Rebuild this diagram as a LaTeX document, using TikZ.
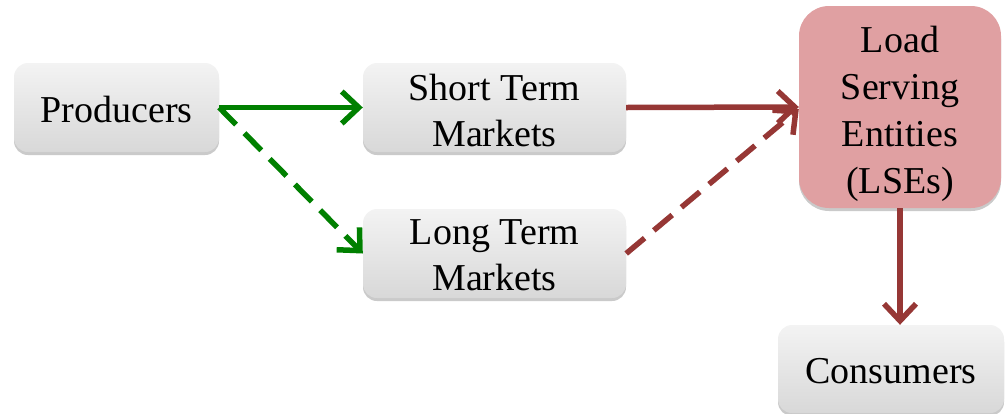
\documentclass[tikz,border=0pt]{standalone}
\usepackage{fontspec}
\setmainfont{Liberation Serif}
\usetikzlibrary{arrows.meta,shadows}
\definecolor{boxtop}{RGB}{243,243,243}
\definecolor{boxbot}{RGB}{216,216,216}
\definecolor{lsefill}{RGB}{224,160,162}
\definecolor{arrgreen}{RGB}{0,128,0}
\definecolor{arrred}{RGB}{150,55,53}
\tikzset{
  graybox/.style={draw=none, rounded corners=14pt, top color=boxtop, bottom color=boxbot,
    inner sep=0pt,
    drop shadow={shadow xshift=0pt, shadow yshift=-3pt, opacity=0.35, fill=black!60}},
  lsebox/.style={draw=none, rounded corners=30pt, fill=lsefill, inner sep=0pt,
    drop shadow={shadow xshift=0pt, shadow yshift=-3pt, opacity=0.35, fill=black!60}},
  boxtext/.style={align=center, inner sep=0pt, font=\fontsize{38}{46}\selectfont},
  lsetext/.style={align=center, inner sep=0pt, font=\fontsize{38}{47}\selectfont},
  garrow/.style={draw=arrgreen, line width=5.5pt, -{Straight Barb[length=17pt,width=32pt,line width=5.5pt]}},
  rarrow/.style={draw=arrred, line width=5.5pt, -{Straight Barb[length=17pt,width=32pt,line width=5.5pt]}},
  dashline/.style={dash pattern=on 24pt off 12pt},
}
\begin{document}
\begin{tikzpicture}[x=1pt,y=-1pt]
\useasboundingbox (0,0) rectangle (1008,413);
\node[graybox, minimum width=205pt, minimum height=89pt] (prod) at (116.5,107.5) {};
\node[graybox, minimum width=263pt, minimum height=89pt] (st) at (494.5,107.5) {};
\node[graybox, minimum width=263pt, minimum height=89pt] (lt) at (494.5,253.5) {};
\node[lsebox, minimum width=202pt, minimum height=202pt] (lse) at (900,107) {};
\node[graybox, minimum width=226pt, minimum height=88pt] (cons) at (891,369) {};
\node[boxtext] (prodtxt) at ([yshift=-2pt]prod.center) {Producers};
\node[boxtext] (sttxt) at ([yshift=-3pt]st.center) {Short Term\\Markets};
\node[boxtext] (lttxt) at ([yshift=-2pt]lt.center) {Long Term\\Markets};
\node[lsetext] (lsetxt) at ([yshift=-7pt]lse.center) {Load\\Serving\\Entities\\(LSEs)};
\node[boxtext] (constxt) at ([yshift=-2pt]cons.center) {Consumers};
\draw[garrow] (prod.east) -- (st.west);
\draw[garrow, dashline] (prod.east) -- (lt.west);
\draw[rarrow] (st.east) -- (lse.west);
\draw[rarrow, dashline] (lt.east) -- ([yshift=-2pt]lse.west);
\draw[rarrow] (lse.south) -- (lse.south |- cons.north);
\end{tikzpicture}
\end{document}
